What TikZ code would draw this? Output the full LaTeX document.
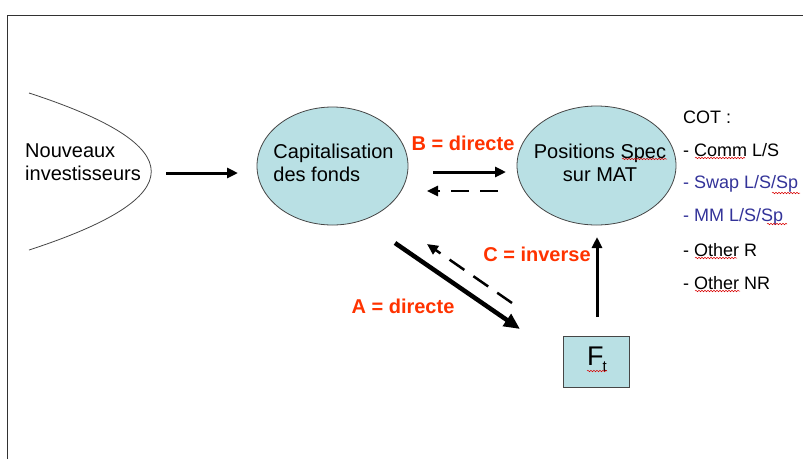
\documentclass[tikz,border=0pt]{standalone}
\usepackage{fontspec}
\setmainfont{Liberation Sans}
\usetikzlibrary{shapes.geometric,arrows.meta,decorations.pathmorphing}
\definecolor{ellfill}{RGB}{185,224,228}
\definecolor{lblred}{RGB}{255,51,0}
\definecolor{cotblue}{RGB}{51,51,153}
\definecolor{framegray}{RGB}{50,50,50}
\definecolor{edgegray}{RGB}{70,70,70}
\tikzset{
  bigtxt/.style={font=\fontsize{20}{23}\selectfont, inner sep=0pt},
  cottxt/.style={font=\fontsize{18}{21}\selectfont, inner sep=0pt, anchor=west},
  redlbl/.style={font=\fontsize{20}{23}\selectfont\bfseries, text=lblred, inner sep=0pt},
  ellbox/.style={draw=edgegray, line width=0.8pt, fill=ellfill, ellipse, inner sep=0pt},
  solidarr/.style={line width=3pt, -{Triangle[length=11pt,width=10pt]}},
  dasharr/.style={line width=2.5pt, dash pattern=on 18pt off 11pt, -{Triangle[length=11pt,width=10pt]}},
  bigarr/.style={line width=4.5pt, -{Triangle[length=16pt,width=14pt]}},
  squig/.style={red!85!black, line width=0.5pt, decorate, decoration={snake,amplitude=0.7pt,segment length=3pt}}
}
\begin{document}
\begin{tikzpicture}[x=1pt,y=-1pt]
\useasboundingbox (0,0) rectangle (803,459);
\fill[white] (0,0) rectangle (803,459);
% frame
\draw[framegray, line width=1pt] (7,459) -- (7,15) -- (803,15);

% left parabola
\draw[edgegray, line width=0.8pt] (29,93) .. controls (192,146) and (192,197) .. (29,250);
\node[bigtxt, align=left, anchor=west] (inv) at (25,162.5) {Nouveaux\\investisseurs};

% ellipses
\node[ellbox, minimum width=151pt, minimum height=118pt] (cap) at (332.5,166) {};
\node[bigtxt, align=left] (captxt) at (333.5,163) {Capitalisation\\des fonds};
\node[ellbox, minimum width=159pt, minimum height=119pt] (pos) at (596.5,165.5) {};
\node[bigtxt, align=center] (postxt) at (600,162.5) {Positions Spec\\sur MAT};

% F_t box
\node[draw=edgegray, line width=0.8pt, fill=ellfill, minimum width=66pt, minimum height=51pt, inner sep=0pt] (Ft) at (596,361.5) {};
\node[inner sep=0pt] (Fttxt) at (597,359)
  {\fontsize{27}{30}\selectfont F\hspace{-1pt}\raisebox{-6pt}{\fontsize{15}{17}\selectfont t}};

% COT list
\node[cottxt] (cot) at (683,117) {COT :};
\node[cottxt] (comm) at (683,150) {- Comm L/S};
\node[cottxt, text=cotblue] (swap) at (683,184) {- Swap L/S/Sp};
\node[cottxt, text=cotblue] (mm) at (683,217) {- MM L/S/Sp};
\node[cottxt] (othr) at (683,250) {- Other R};
\node[cottxt] (othnr) at (683,283) {- Other NR};

% labels
\node[redlbl] (lB) at (463,143) {B = directe};
\node[redlbl] (lA) at (403,306) {A = directe};
\node[redlbl] (lC) at (537,254) {C = inverse};

% arrow end coordinates
\coordinate (h1s) at (166,173);
\coordinate (h1e) at (238,173);
\coordinate (bs) at (433,172);
\coordinate (be) at (506,172);
\coordinate (bds) at (498,191);
\coordinate (bde) at (427,191);
\coordinate (as) at (395,243);
\coordinate (ae) at (520,329);
\coordinate (ads) at (512,303);
\coordinate (ade) at (427,244);
\coordinate (us) at (597,317);
\coordinate (ue) at (597,237);

\draw[solidarr] (h1s) -- (h1e);
\draw[solidarr] (bs) -- (be);
\draw[dasharr] (bds) -- (bde);
\draw[bigarr] (as) -- (ae);
\draw[dasharr] (ads) -- (ade);
\draw[solidarr] (us) -- (ue);

% spell-check squiggles
\draw[squig] (622,159) -- (667,159);
\draw[squig] (695,158) -- (745,158);
\draw[squig] (772,193) -- (800,193);
\draw[squig] (767,224) -- (787,224);
\draw[squig] (695,258) -- (737,258);
\draw[squig] (695,291) -- (740,291);
\draw[squig] (587,371) -- (607,371);
\end{tikzpicture}
\end{document}
